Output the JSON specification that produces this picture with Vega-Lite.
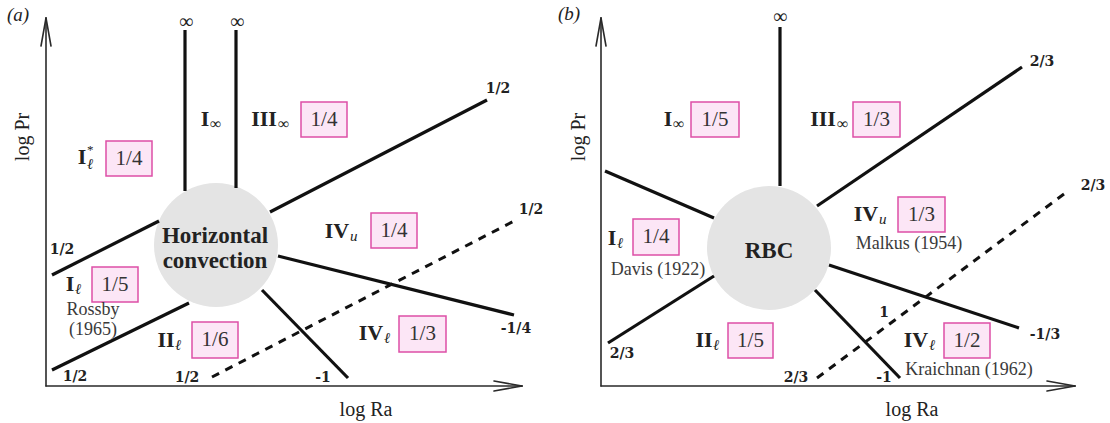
{
  "$schema": "https://vega.github.io/schema/vega-lite/v6.json",
  "padding": 0,
  "spacing": 0,
  "config": {"view": {"stroke": null}, "concat": {"spacing": 0}},
  "datasets": {
    "a": [
      {"kind": "circle", "x": 216, "y": 178},
      {"kind": "axis", "x": 46, "y": 37, "x2": 46, "y2": 405},
      {"kind": "axis", "x": 46, "y": 37, "x2": 522, "y2": 37},
      {"kind": "axis", "x": 46, "y": 405, "x2": 41, "y2": 377},
      {"kind": "axis", "x": 46, "y": 405, "x2": 51, "y2": 377},
      {"kind": "axis", "x": 522, "y": 37, "x2": 494, "y2": 32},
      {"kind": "axis", "x": 522, "y": 37, "x2": 494, "y2": 42},
      {"kind": "line", "x": 185, "y": 393, "x2": 185, "y2": 232},
      {"kind": "line", "x": 236, "y": 393, "x2": 236, "y2": 235},
      {"kind": "line", "x": 270, "y": 211, "x2": 487, "y2": 323},
      {"kind": "line", "x": 159, "y": 202, "x2": 52, "y2": 148},
      {"kind": "line", "x": 189, "y": 120, "x2": 52, "y2": 53},
      {"kind": "line", "x": 278, "y": 167, "x2": 514, "y2": 108},
      {"kind": "line", "x": 262, "y": 133, "x2": 348, "y2": 45},
      {"kind": "dash", "x": 212, "y": 46, "x2": 518, "y2": 204},
      {"kind": "inf", "x": 186, "y": 401, "t": "∞"},
      {"kind": "inf", "x": 237, "y": 401, "t": "∞"},
      {"kind": "num", "x": 498, "y": 334, "t": "1/2"},
      {"kind": "num", "x": 62, "y": 173, "t": "1/2"},
      {"kind": "num", "x": 75, "y": 46, "t": "1/2"},
      {"kind": "num", "x": 516, "y": 94, "t": "-1/4"},
      {"kind": "num", "x": 323, "y": 45, "t": "-1"},
      {"kind": "num", "x": 187, "y": 45, "t": "1/2"},
      {"kind": "num", "x": 531, "y": 213, "t": "1/2"},
      {"kind": "center", "x": 215, "y": 187, "t": "Horizontal"},
      {"kind": "center", "x": 215, "y": 162, "t": "convection"},
      {"kind": "box", "x": 324, "y": 303.5, "bx1": 301, "bx2": 347, "by1": 286, "by2": 321, "t": "1/4"},
      {"kind": "box", "x": 129, "y": 264.5, "bx1": 106, "bx2": 152, "by1": 247, "by2": 282, "t": "1/4"},
      {"kind": "box", "x": 394, "y": 192.5, "bx1": 371, "bx2": 417, "by1": 175, "by2": 210, "t": "1/4"},
      {"kind": "box", "x": 115, "y": 138.5, "bx1": 92, "bx2": 138, "by1": 121, "by2": 156, "t": "1/5"},
      {"kind": "box", "x": 215, "y": 83, "bx1": 192, "bx2": 238, "by1": 65, "by2": 101, "t": "1/6"},
      {"kind": "box", "x": 422.5, "y": 89, "bx1": 399, "bx2": 446, "by1": 71, "by2": 107, "t": "1/3"},
      {"kind": "reg", "x": 205, "y": 304, "t": "I"},
      {"kind": "subinf", "x": 210, "y": 299, "t": "∞"},
      {"kind": "reg", "x": 264, "y": 304, "t": "III"},
      {"kind": "subinf", "x": 278, "y": 299, "t": "∞"},
      {"kind": "reg", "x": 82, "y": 266, "t": "I"},
      {"kind": "sup", "x": 87, "y": 273, "t": "*"},
      {"kind": "subit", "x": 87, "y": 259, "t": "ℓ"},
      {"kind": "reg", "x": 337, "y": 192, "t": "IV"},
      {"kind": "subit", "x": 350, "y": 187, "t": "u"},
      {"kind": "reg", "x": 70, "y": 139, "t": "I"},
      {"kind": "subit", "x": 75, "y": 134, "t": "ℓ"},
      {"kind": "reg", "x": 166, "y": 83, "t": "II"},
      {"kind": "subit", "x": 175, "y": 78, "t": "ℓ"},
      {"kind": "reg", "x": 371, "y": 90, "t": "IV"},
      {"kind": "subit", "x": 384, "y": 85, "t": "ℓ"},
      {"kind": "cite", "x": 93, "y": 113, "t": "Rossby"},
      {"kind": "cite", "x": 93, "y": 93, "t": "(1965)"},
      {"kind": "yt", "x": 23, "y": 286, "t": "log Pr"},
      {"kind": "xt", "x": 366, "y": 13, "t": "log Ra"},
      {"kind": "pl", "x": 18, "y": 408, "t": "(a)"}
    ],
    "b": [
      {"kind": "circle", "x": 214, "y": 175},
      {"kind": "axis", "x": 46, "y": 37, "x2": 46, "y2": 405},
      {"kind": "axis", "x": 46, "y": 37, "x2": 520, "y2": 37},
      {"kind": "axis", "x": 46, "y": 405, "x2": 41, "y2": 377},
      {"kind": "axis", "x": 46, "y": 405, "x2": 51, "y2": 377},
      {"kind": "axis", "x": 520, "y": 37, "x2": 492, "y2": 32},
      {"kind": "axis", "x": 520, "y": 37, "x2": 492, "y2": 42},
      {"kind": "line", "x": 225, "y": 396, "x2": 225, "y2": 237},
      {"kind": "line", "x": 262, "y": 217, "x2": 467, "y2": 356},
      {"kind": "line", "x": 159, "y": 205, "x2": 50, "y2": 252},
      {"kind": "line", "x": 159, "y": 147, "x2": 53, "y2": 80},
      {"kind": "line", "x": 274, "y": 158, "x2": 464, "y2": 95},
      {"kind": "line", "x": 260, "y": 133, "x2": 345, "y2": 45},
      {"kind": "dash", "x": 262, "y": 45, "x2": 513, "y2": 232},
      {"kind": "inf", "x": 225, "y": 406, "t": "∞"},
      {"kind": "num", "x": 487, "y": 361, "t": "2/3"},
      {"kind": "num", "x": 67, "y": 69, "t": "2/3"},
      {"kind": "num", "x": 490, "y": 88, "t": "-1/3"},
      {"kind": "num", "x": 329, "y": 45, "t": "-1"},
      {"kind": "num", "x": 241, "y": 45, "t": "2/3"},
      {"kind": "num", "x": 538, "y": 237, "t": "2/3"},
      {"kind": "num", "x": 329, "y": 110, "t": "1"},
      {"kind": "center", "x": 214, "y": 172, "t": "RBC"},
      {"kind": "box", "x": 160, "y": 303.5, "bx1": 136, "bx2": 184, "by1": 286, "by2": 321, "t": "1/5"},
      {"kind": "box", "x": 321.5, "y": 303.5, "bx1": 298, "bx2": 345, "by1": 286, "by2": 321, "t": "1/3"},
      {"kind": "box", "x": 366.5, "y": 208.5, "bx1": 343, "bx2": 390, "by1": 191, "by2": 226, "t": "1/3"},
      {"kind": "box", "x": 101, "y": 186, "bx1": 78, "bx2": 124, "by1": 168, "by2": 204, "t": "1/4"},
      {"kind": "box", "x": 195.5, "y": 82.5, "bx1": 173, "bx2": 218, "by1": 65, "by2": 100, "t": "1/5"},
      {"kind": "box", "x": 412, "y": 82.5, "bx1": 389, "bx2": 435, "by1": 65, "by2": 100, "t": "1/2"},
      {"kind": "reg", "x": 113, "y": 304, "t": "I"},
      {"kind": "subinf", "x": 118, "y": 299, "t": "∞"},
      {"kind": "reg", "x": 268, "y": 304, "t": "III"},
      {"kind": "subinf", "x": 282, "y": 299, "t": "∞"},
      {"kind": "reg", "x": 311, "y": 209, "t": "IV"},
      {"kind": "subit", "x": 324, "y": 204, "t": "u"},
      {"kind": "reg", "x": 57, "y": 185, "t": "I"},
      {"kind": "subit", "x": 62, "y": 180, "t": "ℓ"},
      {"kind": "reg", "x": 149, "y": 83, "t": "II"},
      {"kind": "subit", "x": 158, "y": 78, "t": "ℓ"},
      {"kind": "reg", "x": 361, "y": 83, "t": "IV"},
      {"kind": "subit", "x": 374, "y": 78, "t": "ℓ"},
      {"kind": "cite", "x": 354, "y": 179, "t": "Malkus (1954)"},
      {"kind": "cite", "x": 103, "y": 153, "t": "Davis (1922)"},
      {"kind": "cite", "x": 414, "y": 53, "t": "Kraichnan (1962)"},
      {"kind": "yt", "x": 24, "y": 286, "t": "log Pr"},
      {"kind": "xt", "x": 357, "y": 13, "t": "log Ra"},
      {"kind": "pl", "x": 14, "y": 409, "t": "(b)"}
    ]
  },
  "hconcat": [
    {
      "data": {"name": "a"},
      "width": 555,
      "height": 423,
      "encoding": {
        "x": {"field": "x", "type": "quantitative", "scale": {"domain": [0, 555], "nice": false, "zero": false}, "axis": null},
        "y": {"field": "y", "type": "quantitative", "scale": {"domain": [0, 423], "nice": false, "zero": false}, "axis": null}
      },
      "layer": [
        {"transform": [{"filter": "datum.kind == 'circle'"}], "mark": {"type": "point", "shape": "circle", "filled": true, "size": 15376, "color": "#e4e4e4", "opacity": 1}},
        {"transform": [{"filter": "datum.kind == 'line'"}], "mark": {"type": "rule", "color": "#111111", "strokeWidth": 3.2}, "encoding": {"x2": {"field": "x2"}, "y2": {"field": "y2"}}},
        {"transform": [{"filter": "datum.kind == 'dash'"}], "mark": {"type": "rule", "color": "#111111", "strokeWidth": 3, "strokeDash": [8, 7]}, "encoding": {"x2": {"field": "x2"}, "y2": {"field": "y2"}}},
        {"transform": [{"filter": "datum.kind == 'axis'"}], "mark": {"type": "rule", "color": "#2a2a2a", "strokeWidth": 1.6, "strokeCap": "round"}, "encoding": {"x2": {"field": "x2"}, "y2": {"field": "y2"}}},
        {"transform": [{"filter": "datum.kind == 'box'"}], "mark": {"type": "rect", "fill": "#fce6f6", "stroke": "#dd4fa6", "strokeWidth": 1.5},
         "encoding": {"x": {"field": "bx1", "type": "quantitative"}, "x2": {"field": "bx2"}, "y": {"field": "by1", "type": "quantitative"}, "y2": {"field": "by2"}}},
        {"transform": [{"filter": "datum.kind == 'box'"}], "mark": {"type": "text", "font": "Liberation Serif", "fontSize": 21, "color": "#333333", "baseline": "middle", "align": "center"}, "encoding": {"text": {"field": "t"}}},
        {"transform": [{"filter": "datum.kind == 'center'"}], "mark": {"type": "text", "font": "Liberation Serif", "fontWeight": "bold", "fontSize": 23, "color": "#222222", "baseline": "middle", "align": "center"}, "encoding": {"text": {"field": "t"}}},
        {"transform": [{"filter": "datum.kind == 'reg'"}], "mark": {"type": "text", "font": "Liberation Serif", "fontWeight": "bold", "fontSize": 22, "color": "#222222", "baseline": "middle", "align": "center"}, "encoding": {"text": {"field": "t"}}},
        {"transform": [{"filter": "datum.kind == 'subinf'"}], "mark": {"type": "text", "font": "Liberation Serif", "fontSize": 16, "color": "#222222", "baseline": "middle", "align": "left"}, "encoding": {"text": {"field": "t"}}},
        {"transform": [{"filter": "datum.kind == 'subit'"}], "mark": {"type": "text", "font": "Liberation Serif", "fontStyle": "italic", "fontSize": 15, "color": "#222222", "baseline": "middle", "align": "left"}, "encoding": {"text": {"field": "t"}}},
        {"transform": [{"filter": "datum.kind == 'sup'"}], "mark": {"type": "text", "font": "Liberation Serif", "fontSize": 13, "color": "#222222", "baseline": "middle", "align": "left"}, "encoding": {"text": {"field": "t"}}},
        {"transform": [{"filter": "datum.kind == 'num'"}], "mark": {"type": "text", "font": "DejaVu Serif", "fontWeight": "bold", "fontSize": 14, "color": "#222222", "baseline": "middle", "align": "center"}, "encoding": {"text": {"field": "t"}}},
        {"transform": [{"filter": "datum.kind == 'inf'"}], "mark": {"type": "text", "font": "Liberation Serif", "fontSize": 20, "color": "#222222", "baseline": "middle", "align": "center"}, "encoding": {"text": {"field": "t"}}},
        {"transform": [{"filter": "datum.kind == 'cite'"}], "mark": {"type": "text", "font": "Liberation Serif", "fontSize": 18, "color": "#3a3a3a", "baseline": "middle", "align": "center"}, "encoding": {"text": {"field": "t"}}},
        {"transform": [{"filter": "datum.kind == 'xt'"}], "mark": {"type": "text", "font": "Liberation Serif", "fontSize": 20, "color": "#222222", "baseline": "middle", "align": "center"}, "encoding": {"text": {"field": "t"}}},
        {"transform": [{"filter": "datum.kind == 'yt'"}], "mark": {"type": "text", "font": "Liberation Serif", "fontSize": 20, "color": "#222222", "baseline": "middle", "align": "center", "angle": 270}, "encoding": {"text": {"field": "t"}}},
        {"transform": [{"filter": "datum.kind == 'pl'"}], "mark": {"type": "text", "font": "Liberation Serif", "fontStyle": "italic", "fontSize": 19, "color": "#222222", "baseline": "middle", "align": "center"}, "encoding": {"text": {"field": "t"}}}
      ]
    },
    {
      "data": {"name": "b"},
      "width": 555,
      "height": 423,
      "encoding": {
        "x": {"field": "x", "type": "quantitative", "scale": {"domain": [0, 555], "nice": false, "zero": false}, "axis": null},
        "y": {"field": "y", "type": "quantitative", "scale": {"domain": [0, 423], "nice": false, "zero": false}, "axis": null}
      },
      "layer": [
        {"transform": [{"filter": "datum.kind == 'circle'"}], "mark": {"type": "point", "shape": "circle", "filled": true, "size": 15376, "color": "#e4e4e4", "opacity": 1}},
        {"transform": [{"filter": "datum.kind == 'line'"}], "mark": {"type": "rule", "color": "#111111", "strokeWidth": 3.2}, "encoding": {"x2": {"field": "x2"}, "y2": {"field": "y2"}}},
        {"transform": [{"filter": "datum.kind == 'dash'"}], "mark": {"type": "rule", "color": "#111111", "strokeWidth": 3, "strokeDash": [8, 7]}, "encoding": {"x2": {"field": "x2"}, "y2": {"field": "y2"}}},
        {"transform": [{"filter": "datum.kind == 'axis'"}], "mark": {"type": "rule", "color": "#2a2a2a", "strokeWidth": 1.6, "strokeCap": "round"}, "encoding": {"x2": {"field": "x2"}, "y2": {"field": "y2"}}},
        {"transform": [{"filter": "datum.kind == 'box'"}], "mark": {"type": "rect", "fill": "#fce6f6", "stroke": "#dd4fa6", "strokeWidth": 1.5},
         "encoding": {"x": {"field": "bx1", "type": "quantitative"}, "x2": {"field": "bx2"}, "y": {"field": "by1", "type": "quantitative"}, "y2": {"field": "by2"}}},
        {"transform": [{"filter": "datum.kind == 'box'"}], "mark": {"type": "text", "font": "Liberation Serif", "fontSize": 21, "color": "#333333", "baseline": "middle", "align": "center"}, "encoding": {"text": {"field": "t"}}},
        {"transform": [{"filter": "datum.kind == 'center'"}], "mark": {"type": "text", "font": "Liberation Serif", "fontWeight": "bold", "fontSize": 23, "color": "#222222", "baseline": "middle", "align": "center"}, "encoding": {"text": {"field": "t"}}},
        {"transform": [{"filter": "datum.kind == 'reg'"}], "mark": {"type": "text", "font": "Liberation Serif", "fontWeight": "bold", "fontSize": 22, "color": "#222222", "baseline": "middle", "align": "center"}, "encoding": {"text": {"field": "t"}}},
        {"transform": [{"filter": "datum.kind == 'subinf'"}], "mark": {"type": "text", "font": "Liberation Serif", "fontSize": 16, "color": "#222222", "baseline": "middle", "align": "left"}, "encoding": {"text": {"field": "t"}}},
        {"transform": [{"filter": "datum.kind == 'subit'"}], "mark": {"type": "text", "font": "Liberation Serif", "fontStyle": "italic", "fontSize": 15, "color": "#222222", "baseline": "middle", "align": "left"}, "encoding": {"text": {"field": "t"}}},
        {"transform": [{"filter": "datum.kind == 'num'"}], "mark": {"type": "text", "font": "DejaVu Serif", "fontWeight": "bold", "fontSize": 14, "color": "#222222", "baseline": "middle", "align": "center"}, "encoding": {"text": {"field": "t"}}},
        {"transform": [{"filter": "datum.kind == 'inf'"}], "mark": {"type": "text", "font": "Liberation Serif", "fontSize": 20, "color": "#222222", "baseline": "middle", "align": "center"}, "encoding": {"text": {"field": "t"}}},
        {"transform": [{"filter": "datum.kind == 'cite'"}], "mark": {"type": "text", "font": "Liberation Serif", "fontSize": 18, "color": "#3a3a3a", "baseline": "middle", "align": "center"}, "encoding": {"text": {"field": "t"}}},
        {"transform": [{"filter": "datum.kind == 'xt'"}], "mark": {"type": "text", "font": "Liberation Serif", "fontSize": 20, "color": "#222222", "baseline": "middle", "align": "center"}, "encoding": {"text": {"field": "t"}}},
        {"transform": [{"filter": "datum.kind == 'yt'"}], "mark": {"type": "text", "font": "Liberation Serif", "fontSize": 20, "color": "#222222", "baseline": "middle", "align": "center", "angle": 270}, "encoding": {"text": {"field": "t"}}},
        {"transform": [{"filter": "datum.kind == 'pl'"}], "mark": {"type": "text", "font": "Liberation Serif", "fontStyle": "italic", "fontSize": 19, "color": "#222222", "baseline": "middle", "align": "center"}, "encoding": {"text": {"field": "t"}}}
      ]
    }
  ]
}
